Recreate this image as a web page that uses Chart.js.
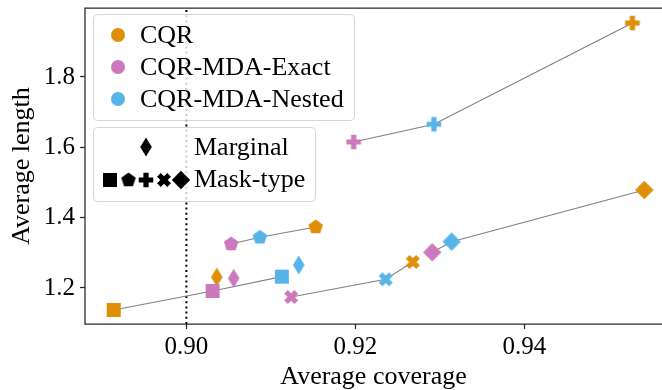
<!DOCTYPE html>
<html>
<head>
<meta charset="utf-8">
<script src="https://cdn.jsdelivr.net/npm/chart.js@4.4.1/dist/chart.umd.min.js"></script>
<style>
html,body{margin:0;padding:0;background:#fff;}
#wrap{width:662px;height:390px;}
</style>
</head>
<body>
<div id="wrap"><canvas id="c" width="662" height="390"></canvas></div>
<script>
// ---- data ----
const maskTypes = ['square', 'pentagon', 'plus', 'cross', 'diamond'];
const methods = ['CQR', 'CQR-MDA-Exact', 'CQR-MDA-Nested'];
const cqrCoverage    = [0.8914, 0.9153, 0.9528, 0.9268, 0.9542];
const cqrLength      = [1.1375, 1.3734, 1.9535, 1.2740, 1.4787];
const exactCoverage  = [0.9031, 0.9053, 0.9198, 0.9124, 0.9291];
const exactLength    = [1.1915, 1.3251, 1.6151, 1.1744, 1.3015];
const nestedCoverage = [0.9113, 0.9087, 0.9293, 0.9236, 0.9314];
const nestedLength   = [1.2322, 1.3441, 1.6654, 1.2247, 1.3317];
// marginal results, one per method (CQR, Exact, Nested)
const marginalCoverage = [0.9036, 0.9056, 0.9133];
const marginalLength   = [1.2310, 1.2276, 1.2654];
const targetCoverage = 0.90;
const xTicks = [0.90, 0.92, 0.94];
const yTicks = [1.2, 1.4, 1.6, 1.8];

// ---- styles ----
const colors = ['#DE8F05', '#CC78BC', '#56B4E9'];
const FONT = "'Liberation Serif', 'DejaVu Serif', serif";

function shapePath(ctx, shape, cx, cy) {
  ctx.beginPath();
  if (shape === 'square') {
    const h = 7;
    ctx.rect(cx - h, cy - h, 2 * h, 2 * h);
  } else if (shape === 'pentagon') {
    const r = 7.6;
    for (let i = 0; i < 5; i++) {
      const a = -Math.PI / 2 + i * 2 * Math.PI / 5;
      const px = cx + r * Math.cos(a), py = cy + r * Math.sin(a);
      if (i === 0) ctx.moveTo(px, py); else ctx.lineTo(px, py);
    }
    ctx.closePath();
  } else if (shape === 'plus' || shape === 'cross') {
    const L = 7.3, w = 2.6;
    const pts = [[-w,-L],[w,-L],[w,-w],[L,-w],[L,w],[w,w],[w,L],[-w,L],[-w,w],[-L,w],[-L,-w],[-w,-w]];
    const rot = shape === 'cross' ? Math.PI / 4 : 0;
    pts.forEach((p, i) => {
      const x = p[0], y = p[1];
      const rx = x * Math.cos(rot) - y * Math.sin(rot);
      const ry = x * Math.sin(rot) + y * Math.cos(rot);
      if (i === 0) ctx.moveTo(cx + rx, cy + ry); else ctx.lineTo(cx + rx, cy + ry);
    });
    ctx.closePath();
  } else if (shape === 'diamond') {
    const r = 9.2;
    ctx.moveTo(cx, cy - r); ctx.lineTo(cx + r, cy); ctx.lineTo(cx, cy + r); ctx.lineTo(cx - r, cy);
    ctx.closePath();
  } else if (shape === 'thin') {
    const rx = 5.8, ry = 9.5;
    ctx.moveTo(cx, cy - ry); ctx.lineTo(cx + rx, cy); ctx.lineTo(cx, cy + ry); ctx.lineTo(cx - rx, cy);
    ctx.closePath();
  } else if (shape === 'circle') {
    ctx.arc(cx, cy, 7, 0, Math.PI * 2);
  }
}

function makeMarker(shape, color) {
  const c = document.createElement('canvas');
  c.width = 22; c.height = 22;
  const ctx = c.getContext('2d');
  shapePath(ctx, shape, 11, 11);
  ctx.fillStyle = color;
  ctx.fill();
  return c;
}

const covs = [cqrCoverage, exactCoverage, nestedCoverage];
const lens = [cqrLength, exactLength, nestedLength];

const datasets = [];
// connecting lines per mask type
maskTypes.forEach((m, i) => {
  const pts = methods.map((_, k) => ({x: covs[k][i], y: lens[k][i]})).sort((a, b) => a.x - b.x);
  datasets.push({
    type: 'line', data: pts, borderColor: '#808080', borderWidth: 1.1,
    pointRadius: 0, showLine: true, fill: false, order: 10, tension: 0
  });
});
// mask-type markers
methods.forEach((name, k) => {
  const markers = maskTypes.map(m => makeMarker(m, colors[k]));
  datasets.push({
    type: 'scatter', label: name,
    data: maskTypes.map((m, i) => ({x: covs[k][i], y: lens[k][i]})),
    pointStyle: markers, pointRadius: 5, order: 1
  });
});
// marginal markers
datasets.push({
  type: 'scatter', label: 'Marginal',
  data: marginalCoverage.map((x, k) => ({x: x, y: marginalLength[k]})),
  pointStyle: methods.map((_, k) => makeMarker('thin', colors[k])),
  pointRadius: 5, order: 1
});

const framePlugin = {
  id: 'frame',
  beforeDatasetsDraw(chart) {
    const {ctx, chartArea: a, scales} = chart;
    ctx.save();
    const xp = scales.x.getPixelForValue(targetCoverage);
    ctx.strokeStyle = '#000';
    ctx.lineWidth = 2;
    ctx.setLineDash([2, 3.2]);
    ctx.beginPath();
    ctx.moveTo(xp, a.bottom);
    ctx.lineTo(xp, a.top);
    ctx.stroke();
    ctx.setLineDash([]);
    ctx.restore();
  },
  afterDraw(chart) {
    const {ctx, chartArea: a} = chart;
    ctx.save();
    ctx.strokeStyle = '#262626';
    ctx.lineWidth = 1.25;
    ctx.beginPath();
    ctx.moveTo(a.right + 2, a.top);
    ctx.lineTo(a.left, a.top);
    ctx.lineTo(a.left, a.bottom);
    ctx.lineTo(a.right + 2, a.bottom);
    ctx.stroke();

    function box(x0, y0, x1, y1) {
      const r = 4;
      ctx.beginPath();
      ctx.moveTo(x0 + r, y0);
      ctx.arcTo(x1, y0, x1, y1, r);
      ctx.arcTo(x1, y1, x0, y1, r);
      ctx.arcTo(x0, y1, x0, y0, r);
      ctx.arcTo(x0, y0, x1, y0, r);
      ctx.closePath();
      ctx.fillStyle = 'rgba(255,255,255,0.8)';
      ctx.fill();
      ctx.strokeStyle = 'rgba(204,204,204,0.8)';
      ctx.lineWidth = 1;
      ctx.stroke();
    }
    ctx.font = '26px ' + FONT;
    ctx.textBaseline = 'middle';
    box(93.5, 14.5, 354.5, 120.5);
    const rowY = [35, 67, 99];
    methods.forEach((name, k) => {
      ctx.drawImage(makeMarker('circle', colors[k]), 118 - 11, rowY[k] - 11);
      ctx.fillStyle = '#000';
      ctx.fillText(name, 140, rowY[k] + 1);
    });
    box(93.5, 127.5, 315.5, 201.5);
    ctx.drawImage(makeMarker('thin', '#000'), 146 - 11, 147 - 11);
    ctx.fillStyle = '#000';
    ctx.fillText('Marginal', 194, 148);
    const mx = [110, 128.5, 146, 164, 181];
    maskTypes.forEach((m, i) => {
      ctx.drawImage(makeMarker(m, '#000'), mx[i] - 11, 180 - 11);
    });
    ctx.fillStyle = '#000';
    ctx.fillText('Mask-type', 194, 180);
    ctx.restore();
  }
};

new Chart(document.getElementById('c'), {
  type: 'scatter',
  data: {datasets},
  options: {
    responsive: false,
    animation: false,
    devicePixelRatio: 1,
    events: [],
    layout: {autoPadding: false, padding: {top: 8, right: 0, left: 0, bottom: 0}},
    plugins: {legend: {display: false}, tooltip: {enabled: false}},
    scales: {
      x: {
        type: 'linear', min: 0.8880, max: 0.9563,
        afterFit(s) { s.height = 66; s.paddingLeft = 0; s.paddingRight = 0; },
        afterBuildTicks(s) { s.ticks = xTicks.map(v => ({value: v})); },
        border: {display: false},
        grid: {display: true, drawOnChartArea: false, drawTicks: true, tickLength: 5, color: '#262626', tickWidth: 1.25},
        ticks: {color: '#000', font: {family: FONT, size: 25}, padding: 3, maxRotation: 0,
          callback: v => v.toFixed(2)},
        title: {display: true, text: 'Average coverage', color: '#000',
          font: {family: FONT, size: 26, lineHeight: 1}, padding: {top: 0, bottom: 0}}
      },
      y: {
        type: 'linear', min: 1.0976, max: 1.996,
        afterFit(s) { s.width = 85; s.paddingTop = 0; s.paddingBottom = 0; },
        afterBuildTicks(s) { s.ticks = yTicks.map(v => ({value: v})); },
        border: {display: false},
        grid: {display: true, drawOnChartArea: false, drawTicks: true, tickLength: 5, color: '#262626', tickWidth: 1.25},
        ticks: {color: '#000', font: {family: FONT, size: 25}, padding: 5,
          callback: v => v.toFixed(1)},
        title: {display: true, text: 'Average length', color: '#000',
          font: {family: FONT, size: 26, lineHeight: 1}, padding: {top: 9, bottom: 0}}
      }
    }
  },
  plugins: [framePlugin]
});
</script>
</body>
</html>
